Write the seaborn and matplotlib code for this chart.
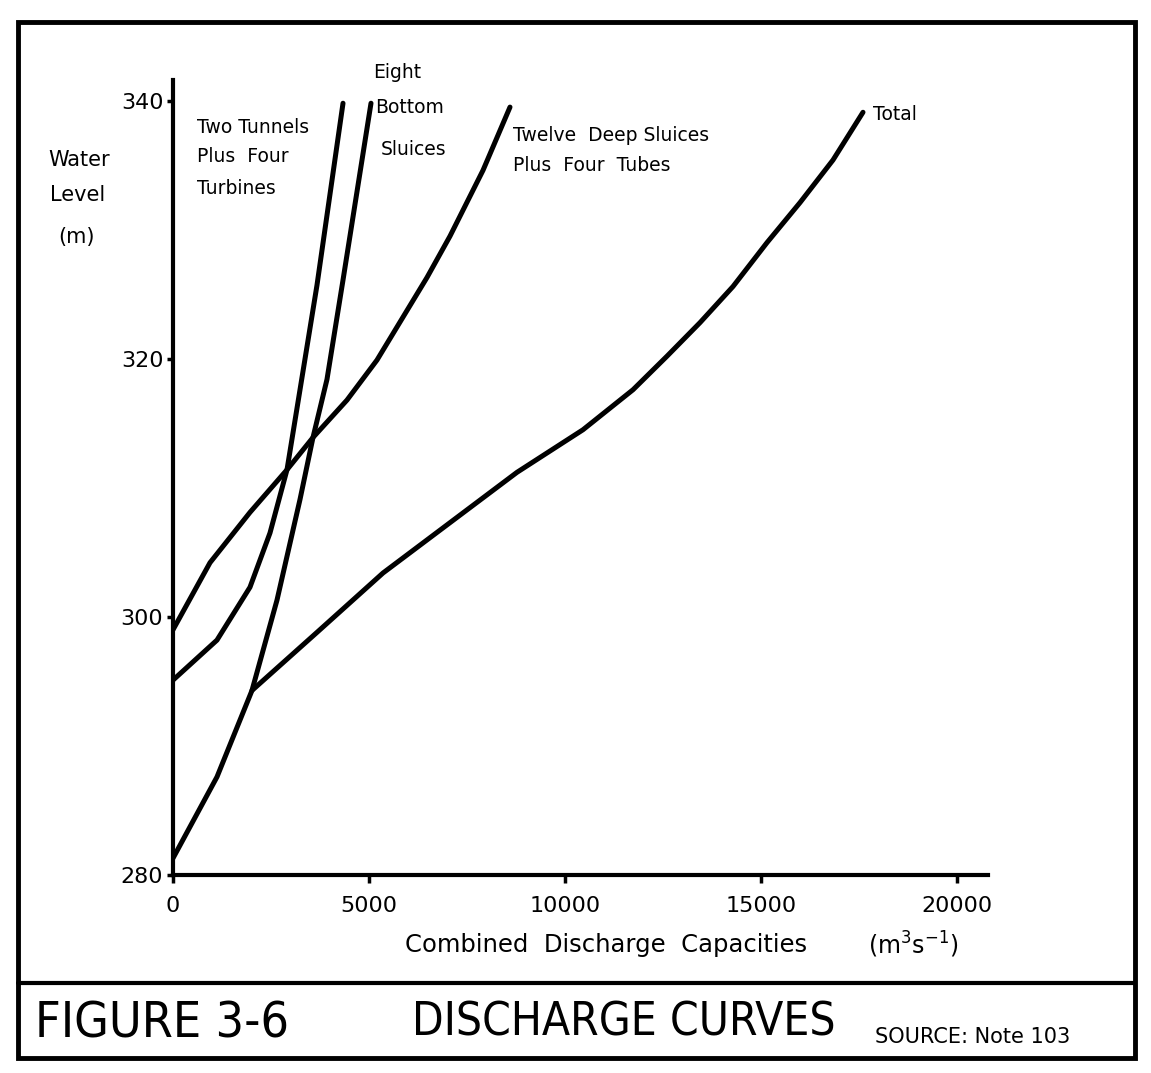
import matplotlib
matplotlib.use("Agg")
import matplotlib.pyplot as plt
import seaborn as sns
import pandas as pd
from matplotlib.patches import Rectangle
from matplotlib.lines import Line2D

# discharge (m3/s) against water level (m)
tunnels_q = [0, 1122, 1964, 2474, 2908, 3240, 3673, 4337]
tunnels_h = [295.1, 298.2, 302.3, 306.5, 311.4, 317.6, 325.7, 339.8]

bottom_q = [0, 1122, 2015, 2653, 3240, 3571, 3928, 4337, 5051]
bottom_h = [281.3, 287.6, 294.3, 301.3, 309.1, 313.9, 318.4, 326.1, 339.8]

deep_q = [0, 944, 1964, 2908, 3571, 4439, 5204, 6480, 7066, 7908, 8597]
deep_h = [299.0, 304.2, 308.1, 311.4, 313.9, 316.8, 319.9, 326.3, 329.5, 334.6, 339.5]

total_q = [2015, 3673, 5357, 7066, 8775, 10459, 11735, 12602, 13444, 14286,
           15153, 15995, 16837, 17602]
total_h = [294.3, 298.8, 303.4, 307.3, 311.2, 314.5, 317.6, 320.2, 322.8, 325.6,
           329.0, 332.1, 335.4, 339.1]

x_ticks = [0, 5000, 10000, 15000, 20000]
y_ticks = [280, 300, 320, 340]

curves = {
    "Two Tunnels Plus Four Turbines": (tunnels_q, tunnels_h),
    "Eight Bottom Sluices": (bottom_q, bottom_h),
    "Twelve Deep Sluices Plus Four Tubes": (deep_q, deep_h),
    "Total": (total_q, total_h),
}

sns.set_theme(style="white")
plt.rcParams['font.family'] = ['DejaVu Sans']
plt.rcParams['text.color'] = 'black'

W, H = 1151, 1073
fig = plt.figure(figsize=(W / 100, H / 100), dpi=100)


def fx(px):
    return px / W


def fy(py):
    return 1 - py / H


ax = fig.add_axes([fx(173), fy(875), (988 - 173) / W, (875 - 80) / H])

for name, (q, h) in curves.items():
    df = pd.DataFrame({"q": q, "h": h})
    sns.lineplot(data=df, x="q", y="h", sort=False, color="black", lw=3.6,
                 solid_capstyle="round", solid_joinstyle="round", ax=ax)

ax.set_xlim(0, 20791)
ax.set_ylim(280, 341.6)
ax.set_xticks(x_ticks)
ax.set_yticks(y_ticks)
ax.set_xticklabels([str(t) for t in x_ticks], fontsize=16)
ax.set_yticklabels([str(t) for t in y_ticks], fontsize=16)
ax.set_xlabel("")
ax.set_ylabel("")
for s in ["top", "right"]:
    ax.spines[s].set_visible(False)
for s in ["left", "bottom"]:
    ax.spines[s].set_linewidth(3)
    ax.spines[s].set_color("black")
ax.tick_params(axis="x", direction="out", length=6, width=2.5, pad=9, colors="black",
               bottom=True)
ax.tick_params(axis="y", direction="out", length=4, width=2.5, pad=3, colors="black",
               left=True)

# curve labels
lab = dict(fontsize=13.5, color="black", va="center", ha="left", clip_on=False)
ax.text(612, 337.9, "Two Tunnels", **lab)
ax.text(612, 335.7, "Plus  Four", **lab)
ax.text(612, 333.2, "Turbines", **lab)
ax.text(5102, 342.2, "Eight", **lab)
ax.text(5153, 339.5, "Bottom", **lab)
ax.text(5306, 336.2, "Sluices", **lab)
ax.text(8673, 337.3, "Twelve  Deep Sluices", **lab)
ax.text(8673, 335.0, "Plus  Four  Tubes", **lab)
ax.text(17857, 338.9, "Total", **lab)

# axis titles
fig.text(fx(48), fy(160), "Water", fontsize=15, va="center", ha="left")
fig.text(fx(50), fy(195), "Level", fontsize=15, va="center", ha="left")
fig.text(fx(58), fy(237), "(m)", fontsize=15, va="center", ha="left")
fig.text(fx(405), fy(945), "Combined  Discharge  Capacities", fontsize=17.5,
         va="center", ha="left")
fig.text(fx(868), fy(945), "(m$^{3}$s$^{-1}$)", fontsize=17, va="center", ha="left")

# frame and caption
fig.patches.append(Rectangle((fx(18), fy(1058)), (1135 - 18) / W, (1058 - 22) / H,
                             transform=fig.transFigure, fill=False, lw=3.5,
                             edgecolor="black"))
fig.lines.append(Line2D([fx(18), fx(1135)], [fy(983), fy(983)],
                        transform=fig.transFigure, color="black", lw=3))
fig.text(fx(35), fy(1023), "FIGURE 3-6", fontsize=36, va="center", ha="left",
         fontstretch="condensed")
fig.text(fx(412), fy(1023), "DISCHARGE CURVES", fontsize=33, va="center", ha="left",
         fontstretch="condensed")
fig.text(fx(875), fy(1037), "SOURCE: Note 103", fontsize=15, va="center", ha="left")

fig.savefig("out.png", dpi=100)
